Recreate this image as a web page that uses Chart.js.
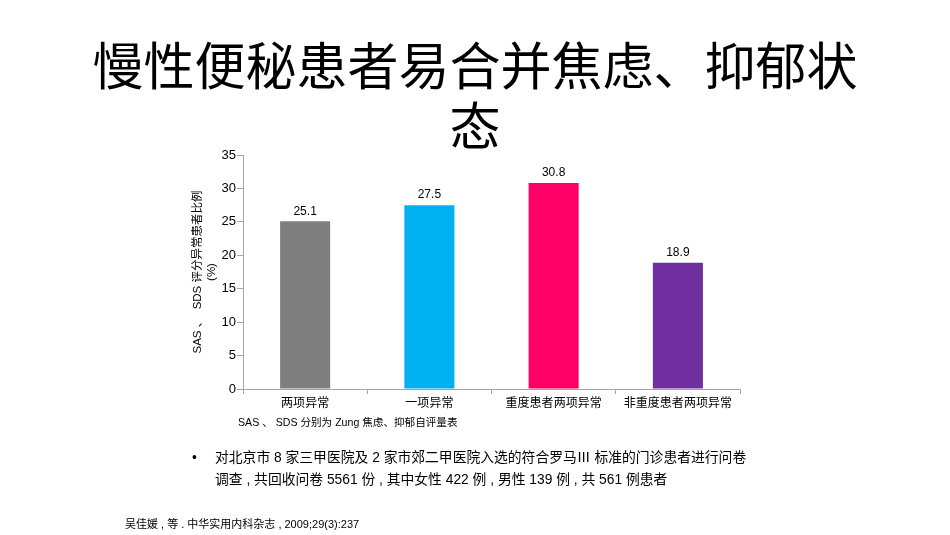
<!DOCTYPE html>
<html>
<head>
<meta charset="utf-8">
<script src="https://cdn.jsdelivr.net/npm/chart.js@4"></script>
<style>
  html, body { margin: 0; padding: 0; background: #fff; }
  body { width: 950px; height: 535px; position: relative; overflow: hidden;
         font-family: "Liberation Sans", "Noto Sans CJK SC", sans-serif; color: #000; }
  #title { position: absolute; left: 0; top: 33px; width: 950px; text-align: center;
           font-family: "Noto Sans CJK SC", sans-serif; font-size: 51px; line-height: 60px; }
  #wrap { position: absolute; left: 0; top: 0; width: 950px; height: 535px; }
  .note { position: absolute; color: #000; white-space: nowrap; }
  #bullet { position: absolute; left: 192px; top: 447px; font-size: 13.8px; line-height: 22px; }
  #bullet .dot { position: absolute; left: 0; top: 0; }
  #bullet .txt { position: absolute; left: 23px; top: 0; white-space: nowrap; }
</style>
</head>
<body>
<div id="title">慢性便秘患者易合并焦虑、抑郁状<br>态</div>
<div id="wrap"><canvas id="chart" width="950" height="535"></canvas></div>
<div class="note" style="left:238px; top:414px; font-size:10.6px;">SAS 、 SDS 分别为 Zung 焦虑、抑郁自评量表</div>
<div id="bullet"><span class="dot">•</span><span class="txt">对北京市 8 家三甲医院及 2 家市郊二甲医院入选的符合罗马Ⅲ 标准的门诊患者进行问卷<br>调查 , 共回收问卷 5561 份 ,  其中女性 422 例 , 男性 139 例 , 共 561 例患者</span></div>
<div class="note" style="left:125px; top:515px; font-size:11px;">吴佳媛 ,  等 .  中华实用内科杂志 , 2009;29(3):237</div>
<script>
'use strict';

const categories = ['两项异常', '一项异常', '重度患者两项异常', '非重度患者两项异常'];
const values = [25.1, 27.5, 30.8, 18.9];
const barColors = ['#7f7f7f', '#00b0f0', '#ff0066', '#7030a0'];
const yTicks = [0, 5, 10, 15, 20, 25, 30, 35];
const yTitle = ['SAS 、  SDS 评分异常患者比例', '(%)'];

// 柱顶数值
const valueLabels = {
    id: 'valueLabels',
    afterDatasetsDraw(chart) {
        const ctx = chart.ctx;
        const meta = chart.getDatasetMeta(0);
        ctx.save();
        ctx.font = '12px "Liberation Sans", sans-serif';
        ctx.fillStyle = '#000';
        ctx.textAlign = 'center';
        ctx.textBaseline = 'bottom';
        meta.data.forEach((bar, i) => {
            ctx.fillText(values[i].toFixed(1), bar.x, bar.y - 4);
        });
        ctx.restore();
    }
};

const ctx = document.getElementById('chart').getContext('2d');
new Chart(ctx, {
    type: 'bar',
    data: {
        labels: categories,
        datasets: [{
            data: values,
            backgroundColor: barColors,
            borderWidth: 0,
            categoryPercentage: 1,
            barPercentage: 0.403
        }]
    },
    options: {
        responsive: false,
        animation: false,
        devicePixelRatio: 1,
        layout: { padding: { left: 180, right: 210, top: 155, bottom: 0 } },
        plugins: { legend: { display: false }, tooltip: { enabled: false } },
        scales: {
            x: {
                offset: true,
                grid: { offset: true, drawOnChartArea: false, color: '#a6a6a6', tickLength: 5 },
                border: { color: '#a6a6a6' },
                ticks: { color: '#000', font: { size: 12, family: '"Noto Sans CJK SC", sans-serif' }, padding: 1 },
                afterFit(s) { s.height = 146; }
            },
            y: {
                min: 0, max: 35,
                afterBuildTicks(s) { s.ticks = yTicks.map(v => ({ value: v })); },
                grid: { drawOnChartArea: false, color: '#a6a6a6', tickLength: 6 },
                border: { color: '#a6a6a6' },
                ticks: { color: '#000', font: { size: 13, family: '"Liberation Sans", sans-serif' }, padding: 1 },
                title: {
                    display: true, text: yTitle, color: '#000',
                    font: { size: 11.5, family: '"Liberation Sans", "Noto Sans CJK SC", sans-serif', lineHeight: 1.2 },
                    padding: { top: 11, bottom: 0 }
                },
                afterFit(s) { s.width = 63; }
            }
        }
    },
    plugins: [valueLabels]
});
</script>
</body>
</html>
